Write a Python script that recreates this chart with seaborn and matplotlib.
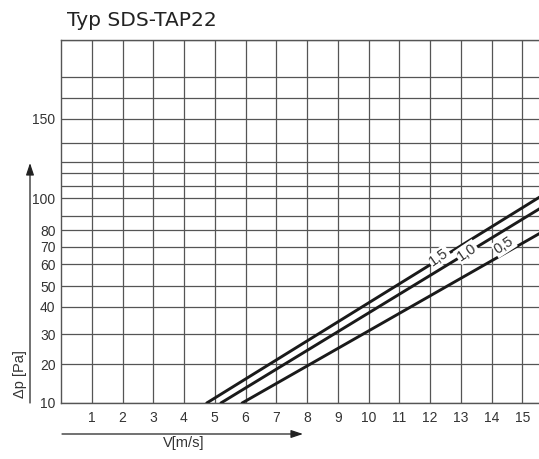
import numpy as np
import pandas as pd
import matplotlib
matplotlib.use("Agg")
import matplotlib.pyplot as plt
import seaborn as sns

# ---- data ----
title = "Typ SDS-TAP22"
x_ticks = list(range(1, 16))
y_grid_vals = [10, 20, 30, 40, 50, 60, 70, 80, 90, 100, 110, 120, 130, 140, 150, 200, 250, 300]
y_labels = ["10", "20", "30", "40", "50", "60", "70", "80", "", "100", "", "", "", "", "150", "", "", ""]
# scale height (px above axis bottom) of each gridline
y_grid_pos = [0, 39, 69, 96, 117, 139, 156, 173, 187, 205, 217, 230, 241, 260, 284, 305, 326, 363]

series_names = ["1,5", "1,0", "0,5"]
v_15 = [4.74, 15.8]
dp_15 = [10, 104.5]
v_10 = [5.20, 15.8]
dp_10 = [10, 96.5]
v_05 = [5.89, 15.8]
dp_05 = [10, 80.5]
label_v = [12.3, 13.2, 14.4]
label_dp = [64, 67, 71]

df = pd.concat([
    pd.DataFrame({"v": v_15, "dp": dp_15, "s": series_names[0]}),
    pd.DataFrame({"v": v_10, "dp": dp_10, "s": series_names[1]}),
    pd.DataFrame({"v": v_05, "dp": dp_05, "s": series_names[2]}),
])

sns.set_theme(style="white")
plt.rcParams["font.family"] = ["Liberation Sans", "DejaVu Sans"]

W, H = 539, 459
fig = plt.figure(figsize=(W / 100, H / 100), dpi=100)
ax = fig.add_axes([61 / W, 1 - 403 / H, (W - 61) / W + 0.01, (403 - 40) / H])

def fwd(v):
    return np.interp(v, y_grid_vals, y_grid_pos)

def inv(p):
    return np.interp(p, y_grid_pos, y_grid_vals)

ax.set_yscale("function", functions=(fwd, inv))

sns.lineplot(data=df, x="v", y="dp", hue="s", palette=["#1a1a1a"] * 3,
             linewidth=2.1, legend=False, ax=ax, zorder=3, estimator=None, sort=False)

ax.set_xlim(0, 15.72)
ax.set_ylim(10, 300)
ax.set_xticks(x_ticks)
ax.set_xticklabels([str(t) for t in x_ticks])
ax.set_yticks(y_grid_vals)
ax.set_yticklabels(y_labels)
ax.minorticks_off()
ax.tick_params(axis="both", length=0, labelsize=10, labelcolor="#333333")
ax.tick_params(axis="y", pad=4)
ax.tick_params(axis="x", pad=6)
ax.grid(True, color="#555555", linewidth=0.9)
ax.set_axisbelow(True)
ax.set_xlabel("")
ax.set_ylabel("")
for side in ["left", "bottom", "top"]:
    ax.spines[side].set_color("#555555")
    ax.spines[side].set_linewidth(1.0)
ax.spines["right"].set_visible(False)

rots = [35, 34, 33]
for name, lv, ld, r in zip(series_names, label_v, label_dp, rots):
    ax.text(lv, ld, name, rotation=r, ha="center", va="center", fontsize=10.5,
            color="#333333", zorder=4,
            bbox=dict(boxstyle="square,pad=0.08", fc="white", ec="none"))

# title and axis captions
fig.text(67 / W, 1 - 21 / H, title, ha="left", va="center", fontsize=14.5,
         family="DejaVu Sans", color="#222222")
fig.text(20 / W, 1 - 374 / H, "Δp [Pa]", rotation=90, ha="center", va="center",
         fontsize=10.5, color="#333333")
fig.text(184 / W, 1 - 443 / H, "V[m/s]", ha="center", va="center",
         fontsize=10.5, color="#333333")

arrow = dict(arrowstyle="-|>,head_length=0.6,head_width=0.2", color="#222222", lw=0.9,
             shrinkA=0, shrinkB=0)
ax.annotate("", xy=(30, H - 163), xytext=(30, H - 403), xycoords="figure pixels",
            textcoords="figure pixels", arrowprops=arrow, annotation_clip=False)
ax.annotate("", xy=(303, H - 434), xytext=(62, H - 434), xycoords="figure pixels",
            textcoords="figure pixels", arrowprops=arrow, annotation_clip=False)

fig.savefig("out.png", dpi=100)
